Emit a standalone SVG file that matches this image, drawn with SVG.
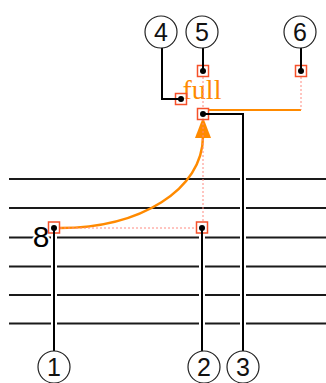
<svg xmlns="http://www.w3.org/2000/svg" width="326" height="383" viewBox="0 0 326 383">
<style>
.staff{stroke:#1a1a1a;stroke-width:2;fill:none}
.halo{stroke:#fff;stroke-width:6;fill:none}
.lead{stroke:#000;stroke-width:2;fill:none}
.dot{fill:#000}
.sq{fill:#fff;fill-opacity:0.6;stroke:#f5502a;stroke-width:1.5}
.dash{stroke:#ff8a80;stroke-width:1;stroke-dasharray:2,2;fill:none}
.circ{fill:#fff;stroke:#222;stroke-width:1.2}
.num{font-family:"Liberation Sans",Arial,sans-serif;font-size:25px;fill:#111;text-anchor:middle}
</style>
<rect width="326" height="383" fill="#fff"/>
<g id="staff">
<line class="staff" x1="9" y1="179" x2="326" y2="179"/>
<line class="staff" x1="9" y1="208" x2="326" y2="208"/>
<line class="staff" x1="9" y1="237.5" x2="326" y2="237.5"/>
<line class="staff" x1="9" y1="266.5" x2="326" y2="266.5"/>
<line class="staff" x1="9" y1="295" x2="326" y2="295"/>
<line class="staff" x1="9" y1="323.5" x2="326" y2="323.5"/>
</g>
<g id="fret">
<text x="41" y="247" font-family="Liberation Sans,Arial,sans-serif" font-size="30" fill="#000" text-anchor="middle" stroke="#fff" stroke-width="4" paint-order="stroke">8</text>
</g>
<g id="bend">
<path d="M60,228 C140,228 203,190 203,136" fill="none" stroke="#ff8a00" stroke-width="2.5"/>
<polygon points="203,117 195,138 211,138" fill="#ff8a00"/>
<line x1="208" y1="110" x2="301" y2="110" stroke="#ff8a00" stroke-width="2"/>
<text x="202" y="99" font-family="Liberation Serif,'Times New Roman',serif" font-size="28" fill="#ff8a00" text-anchor="middle">full</text>
</g>
<g id="connectors">
<line class="dash" x1="60" y1="228" x2="197" y2="228"/>
<line class="dash" x1="203" y1="119" x2="203" y2="222"/>
<line class="dash" x1="203" y1="77" x2="203" y2="108"/>
<line class="dash" x1="301" y1="77" x2="301" y2="110"/>
<path class="halo" d="M54,228 V351"/>
<path class="halo" d="M202,228 V351"/>
<path class="halo" d="M203,114 H243 V351"/>
<path class="halo" d="M162,48 V99 H181"/>
<path class="halo" d="M203,48 V71"/>
<path class="halo" d="M301,48 V71"/>
<rect class="sq" x="48.5" y="222" width="11" height="11"/>
<rect class="sq" x="196.5" y="222" width="11" height="11"/>
<rect class="sq" x="197.5" y="108.5" width="11" height="11"/>
<rect class="sq" x="175.5" y="93.5" width="11" height="11"/>
<rect class="sq" x="197.5" y="65.5" width="11" height="11"/>
<rect class="sq" x="295.5" y="65.5" width="11" height="11"/>
<path class="lead" d="M54,228 V351"/>
<path class="lead" d="M202,228 V351"/>
<path class="lead" d="M203,114 H243 V351"/>
<path class="lead" d="M162,48 V99 H181"/>
<path class="lead" d="M203,48 V71"/>
<path class="lead" d="M301,48 V71"/>
<circle class="dot" cx="54" cy="228" r="3"/>
<circle class="dot" cx="202" cy="228" r="3"/>
<circle class="dot" cx="203" cy="114" r="3"/>
<circle class="dot" cx="181" cy="99" r="3"/>
<circle class="dot" cx="203" cy="71" r="3"/>
<circle class="dot" cx="301" cy="71" r="3"/>
</g>
<g id="c1"><circle class="circ" cx="54" cy="367" r="16"/><text class="num" x="54" y="376">1</text></g>
<g id="c2"><circle class="circ" cx="204" cy="367" r="16"/><text class="num" x="204" y="376">2</text></g>
<g id="c3"><circle class="circ" cx="243" cy="367" r="16"/><text class="num" x="243" y="376">3</text></g>
<g id="c4"><circle class="circ" cx="161" cy="32" r="16"/><text class="num" x="161" y="41">4</text></g>
<g id="c5"><circle class="circ" cx="202" cy="32" r="16"/><text class="num" x="202" y="41">5</text></g>
<g id="c6"><circle class="circ" cx="300" cy="32" r="16"/><text class="num" x="300" y="41">6</text></g>
</svg>
